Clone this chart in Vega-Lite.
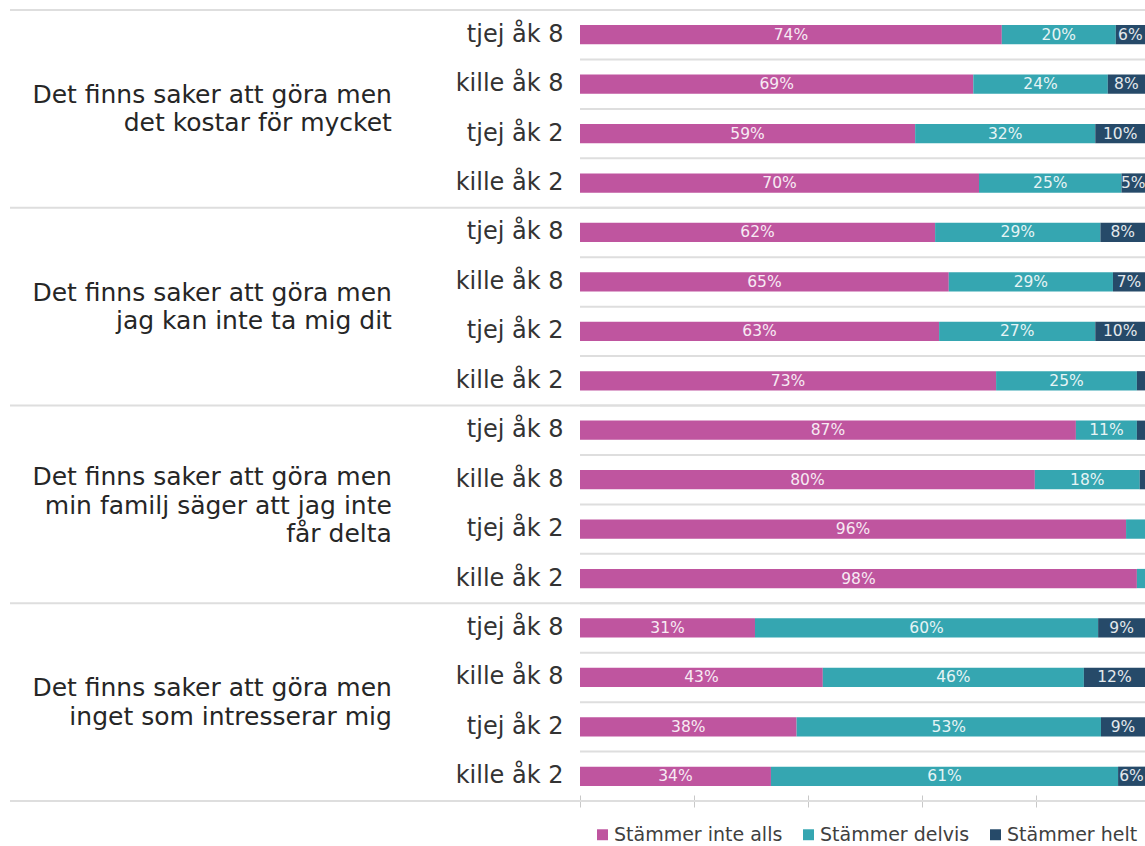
{
  "$schema": "https://vega.github.io/schema/vega-lite/v6.json",
  "width": 565,
  "height": 791,
  "autosize": {"type": "none"},
  "padding": {"left": 580, "top": 10, "right": 0, "bottom": 45},
  "background": "white",
  "config": {"view": {"stroke": null}, "font": "DejaVu Sans"},
  "datasets": {
    "svar": [
      {"rad": "1|tjej åk 8", "svar": "Stämmer inte alls", "nr": 1, "andel": 0.74},
      {"rad": "1|tjej åk 8", "svar": "Stämmer delvis", "nr": 2, "andel": 0.20},
      {"rad": "1|tjej åk 8", "svar": "Stämmer helt", "nr": 3, "andel": 0.06},
      {"rad": "2|kille åk 8", "svar": "Stämmer inte alls", "nr": 1, "andel": 0.69},
      {"rad": "2|kille åk 8", "svar": "Stämmer delvis", "nr": 2, "andel": 0.236},
      {"rad": "2|kille åk 8", "svar": "Stämmer helt", "nr": 3, "andel": 0.076},
      {"rad": "3|tjej åk 2", "svar": "Stämmer inte alls", "nr": 1, "andel": 0.588},
      {"rad": "3|tjej åk 2", "svar": "Stämmer delvis", "nr": 2, "andel": 0.316},
      {"rad": "3|tjej åk 2", "svar": "Stämmer helt", "nr": 3, "andel": 0.098},
      {"rad": "4|kille åk 2", "svar": "Stämmer inte alls", "nr": 1, "andel": 0.70},
      {"rad": "4|kille åk 2", "svar": "Stämmer delvis", "nr": 2, "andel": 0.25},
      {"rad": "4|kille åk 2", "svar": "Stämmer helt", "nr": 3, "andel": 0.05},
      {"rad": "5|tjej åk 8", "svar": "Stämmer inte alls", "nr": 1, "andel": 0.623},
      {"rad": "5|tjej åk 8", "svar": "Stämmer delvis", "nr": 2, "andel": 0.29},
      {"rad": "5|tjej åk 8", "svar": "Stämmer helt", "nr": 3, "andel": 0.082},
      {"rad": "6|kille åk 8", "svar": "Stämmer inte alls", "nr": 1, "andel": 0.647},
      {"rad": "6|kille åk 8", "svar": "Stämmer delvis", "nr": 2, "andel": 0.288},
      {"rad": "6|kille åk 8", "svar": "Stämmer helt", "nr": 3, "andel": 0.065},
      {"rad": "7|tjej åk 2", "svar": "Stämmer inte alls", "nr": 1, "andel": 0.63},
      {"rad": "7|tjej åk 2", "svar": "Stämmer delvis", "nr": 2, "andel": 0.274},
      {"rad": "7|tjej åk 2", "svar": "Stämmer helt", "nr": 3, "andel": 0.096},
      {"rad": "8|kille åk 2", "svar": "Stämmer inte alls", "nr": 1, "andel": 0.73},
      {"rad": "8|kille åk 2", "svar": "Stämmer delvis", "nr": 2, "andel": 0.247},
      {"rad": "8|kille åk 2", "svar": "Stämmer helt", "nr": 3, "andel": 0.023},
      {"rad": "9|tjej åk 8", "svar": "Stämmer inte alls", "nr": 1, "andel": 0.87},
      {"rad": "9|tjej åk 8", "svar": "Stämmer delvis", "nr": 2, "andel": 0.107},
      {"rad": "9|tjej åk 8", "svar": "Stämmer helt", "nr": 3, "andel": 0.023},
      {"rad": "10|kille åk 8", "svar": "Stämmer inte alls", "nr": 1, "andel": 0.798},
      {"rad": "10|kille åk 8", "svar": "Stämmer delvis", "nr": 2, "andel": 0.184},
      {"rad": "10|kille åk 8", "svar": "Stämmer helt", "nr": 3, "andel": 0.018},
      {"rad": "11|tjej åk 2", "svar": "Stämmer inte alls", "nr": 1, "andel": 0.958},
      {"rad": "11|tjej åk 2", "svar": "Stämmer delvis", "nr": 2, "andel": 0.042},
      {"rad": "11|tjej åk 2", "svar": "Stämmer helt", "nr": 3, "andel": 0.0},
      {"rad": "12|kille åk 2", "svar": "Stämmer inte alls", "nr": 1, "andel": 0.977},
      {"rad": "12|kille åk 2", "svar": "Stämmer delvis", "nr": 2, "andel": 0.023},
      {"rad": "12|kille åk 2", "svar": "Stämmer helt", "nr": 3, "andel": 0.0},
      {"rad": "13|tjej åk 8", "svar": "Stämmer inte alls", "nr": 1, "andel": 0.307},
      {"rad": "13|tjej åk 8", "svar": "Stämmer delvis", "nr": 2, "andel": 0.602},
      {"rad": "13|tjej åk 8", "svar": "Stämmer helt", "nr": 3, "andel": 0.091},
      {"rad": "14|kille åk 8", "svar": "Stämmer inte alls", "nr": 1, "andel": 0.426},
      {"rad": "14|kille åk 8", "svar": "Stämmer delvis", "nr": 2, "andel": 0.458},
      {"rad": "14|kille åk 8", "svar": "Stämmer helt", "nr": 3, "andel": 0.116},
      {"rad": "15|tjej åk 2", "svar": "Stämmer inte alls", "nr": 1, "andel": 0.38},
      {"rad": "15|tjej åk 2", "svar": "Stämmer delvis", "nr": 2, "andel": 0.534},
      {"rad": "15|tjej åk 2", "svar": "Stämmer helt", "nr": 3, "andel": 0.086},
      {"rad": "16|kille åk 2", "svar": "Stämmer inte alls", "nr": 1, "andel": 0.335},
      {"rad": "16|kille åk 2", "svar": "Stämmer delvis", "nr": 2, "andel": 0.609},
      {"rad": "16|kille åk 2", "svar": "Stämmer helt", "nr": 3, "andel": 0.056}
    ],
    "grupper": [
      {"rad": "3|tjej åk 2", "etikett": "Det finns saker att göra men\ndet kostar för mycket"},
      {"rad": "7|tjej åk 2", "etikett": "Det finns saker att göra men\njag kan inte ta mig dit"},
      {"rad": "11|tjej åk 2", "etikett": "Det finns saker att göra men\nmin familj säger att jag inte\nfår delta"},
      {"rad": "15|tjej åk 2", "etikett": "Det finns saker att göra men\ninget som intresserar mig"}
    ],
    "linjer": [
      {"rad": "1|tjej åk 8"},
      {"rad": "5|tjej åk 8"},
      {"rad": "9|tjej åk 8"},
      {"rad": "13|tjej åk 8"}
    ],
    "botten": [
      {"rad": "16|kille åk 2"}
    ]
  },
  "data": {"name": "svar"},
  "transform": [
    {"stack": "andel", "groupby": ["rad"], "sort": [{"field": "nr", "order": "ascending"}], "as": ["x0", "x1"]}
  ],
  "layer": [
    {
      "transform": [{"filter": "datum.nr == 1"}],
      "mark": {"type": "rule", "color": "#dedede", "strokeWidth": 2},
      "encoding": {
        "y": {"field": "rad", "type": "nominal", "sort": null, "bandPosition": 0,
              "scale": {"domain": ["1|tjej åk 8","2|kille åk 8","3|tjej åk 2","4|kille åk 2","5|tjej åk 8","6|kille åk 8","7|tjej åk 2","8|kille åk 2","9|tjej åk 8","10|kille åk 8","11|tjej åk 2","12|kille åk 2","13|tjej åk 8","14|kille åk 8","15|tjej åk 2","16|kille åk 2"], "paddingInner": 0, "paddingOuter": 0},
              "axis": {"title": null, "ticks": false, "domain": false, "grid": false, "labelExpr": "split(datum.value, '|')[1]", "labelFontSize": 24, "labelColor": "#333333", "labelPadding": 17, "labelFont": "DejaVu Sans"}},
        "x": {"datum": 0, "type": "quantitative",
              "scale": {"domain": [0, 0.99123], "nice": false, "zero": false},
              "axis": {"title": null, "labels": false, "grid": false, "values": [0, 0.2, 0.4, 0.6, 0.8], "domain": false, "tickColor": "#c8c8c8", "tickSize": 12, "tickWidth": 1, "offset": -6}},
        "x2": {"datum": 0.99123}
      }
    },
    {
      "data": {"name": "linjer"},
      "mark": {"type": "rule", "color": "#dedede", "strokeWidth": 2},
      "encoding": {
        "y": {"field": "rad", "type": "nominal", "sort": null, "bandPosition": 0,
              "axis": {"title": null, "ticks": false, "domain": false, "grid": false, "labelExpr": "split(datum.value, '|')[1]", "labelFontSize": 24, "labelColor": "#333333", "labelPadding": 17, "labelFont": "DejaVu Sans"}},
        "x": {"datum": -1, "type": "quantitative",
              "axis": {"title": null, "labels": false, "grid": false, "values": [0, 0.2, 0.4, 0.6, 0.8], "domain": false, "tickColor": "#c8c8c8", "tickSize": 12, "tickWidth": 1, "offset": -6}},
        "x2": {"datum": 0.99123}
      }
    },
    {
      "data": {"name": "botten"},
      "mark": {"type": "rule", "color": "#dedede", "strokeWidth": 2},
      "encoding": {
        "y": {"field": "rad", "type": "nominal", "sort": null, "bandPosition": 1,
              "axis": {"title": null, "ticks": false, "domain": false, "grid": false, "labelExpr": "split(datum.value, '|')[1]", "labelFontSize": 24, "labelColor": "#333333", "labelPadding": 17, "labelFont": "DejaVu Sans"}},
        "x": {"datum": -1, "type": "quantitative",
              "axis": {"title": null, "labels": false, "grid": false, "values": [0, 0.2, 0.4, 0.6, 0.8], "domain": false, "tickColor": "#c8c8c8", "tickSize": 12, "tickWidth": 1, "offset": -6}},
        "x2": {"datum": 0.99123}
      }
    },
    {
      "mark": {"type": "bar", "height": {"band": 0.39}, "clip": true},
      "encoding": {
        "y": {"field": "rad", "type": "nominal", "sort": null,
              "axis": {"title": null, "ticks": false, "domain": false, "grid": false, "labelExpr": "split(datum.value, '|')[1]", "labelFontSize": 24, "labelColor": "#333333", "labelPadding": 17, "labelFont": "DejaVu Sans"}},
        "x": {"field": "x0", "type": "quantitative",
              "axis": {"title": null, "labels": false, "grid": false, "values": [0, 0.2, 0.4, 0.6, 0.8], "domain": false, "tickColor": "#c8c8c8", "tickSize": 12, "tickWidth": 1, "offset": -6}},
        "x2": {"field": "x1"},
        "color": {"field": "svar", "type": "nominal",
                  "scale": {"domain": ["Stämmer inte alls", "Stämmer delvis", "Stämmer helt"], "range": ["#BF559F", "#35A6B1", "#264A69"]},
                  "legend": {"orient": "none", "legendX": 13, "legendY": 815, "direction": "horizontal", "title": null, "symbolType": "square", "symbolSize": 120, "symbolStrokeWidth": 0, "labelFontSize": 19, "labelLimit": 400, "labelColor": "#404040", "labelFont": "DejaVu Sans", "columnPadding": 16, "labelOffset": 2}}
      }
    },
    {
      "transform": [
        {"filter": "datum.andel >= 0.05"},
        {"calculate": "(datum.x0 + min(datum.x1, 0.99123)) / 2", "as": "mitt"}
      ],
      "mark": {"type": "text", "fontSize": 15.5, "fill": "white", "opacity": 0.88, "baseline": "middle", "align": "center"},
      "encoding": {
        "y": {"field": "rad", "type": "nominal", "sort": null,
              "axis": {"title": null, "ticks": false, "domain": false, "grid": false, "labelExpr": "split(datum.value, '|')[1]", "labelFontSize": 24, "labelColor": "#333333", "labelPadding": 17, "labelFont": "DejaVu Sans"}},
        "x": {"field": "mitt", "type": "quantitative",
              "axis": {"title": null, "labels": false, "grid": false, "values": [0, 0.2, 0.4, 0.6, 0.8], "domain": false, "tickColor": "#c8c8c8", "tickSize": 12, "tickWidth": 1, "offset": -6}},
        "text": {"field": "andel", "type": "quantitative", "format": ".0%"}
      }
    },
    {
      "data": {"name": "grupper"},
      "transform": [{"filter": "datum.rad != '11|tjej åk 2'"}],
      "mark": {"type": "text", "align": "right", "baseline": "middle", "lineBreak": "\n", "fontSize": 25, "lineHeight": 28.5, "dy": -14, "color": "#262626"},
      "encoding": {
        "y": {"field": "rad", "type": "nominal", "sort": null, "bandPosition": 0,
              "axis": {"title": null, "ticks": false, "domain": false, "grid": false, "labelExpr": "split(datum.value, '|')[1]", "labelFontSize": 24, "labelColor": "#333333", "labelPadding": 17, "labelFont": "DejaVu Sans"}},
        "x": {"datum": -0.33, "type": "quantitative",
              "axis": {"title": null, "labels": false, "grid": false, "values": [0, 0.2, 0.4, 0.6, 0.8], "domain": false, "tickColor": "#c8c8c8", "tickSize": 12, "tickWidth": 1, "offset": -6}},
        "text": {"field": "etikett"}
      }
    },
    {
      "data": {"name": "grupper"},
      "transform": [{"filter": "datum.rad == '11|tjej åk 2'"}],
      "mark": {"type": "text", "align": "right", "baseline": "middle", "lineBreak": "\n", "fontSize": 25, "lineHeight": 28.5, "dy": -27, "color": "#262626"},
      "encoding": {
        "y": {"field": "rad", "type": "nominal", "sort": null, "bandPosition": 0,
              "axis": {"title": null, "ticks": false, "domain": false, "grid": false, "labelExpr": "split(datum.value, '|')[1]", "labelFontSize": 24, "labelColor": "#333333", "labelPadding": 17, "labelFont": "DejaVu Sans"}},
        "x": {"datum": -0.33, "type": "quantitative",
              "axis": {"title": null, "labels": false, "grid": false, "values": [0, 0.2, 0.4, 0.6, 0.8], "domain": false, "tickColor": "#c8c8c8", "tickSize": 12, "tickWidth": 1, "offset": -6}},
        "text": {"field": "etikett"}
      }
    }
  ]
}
